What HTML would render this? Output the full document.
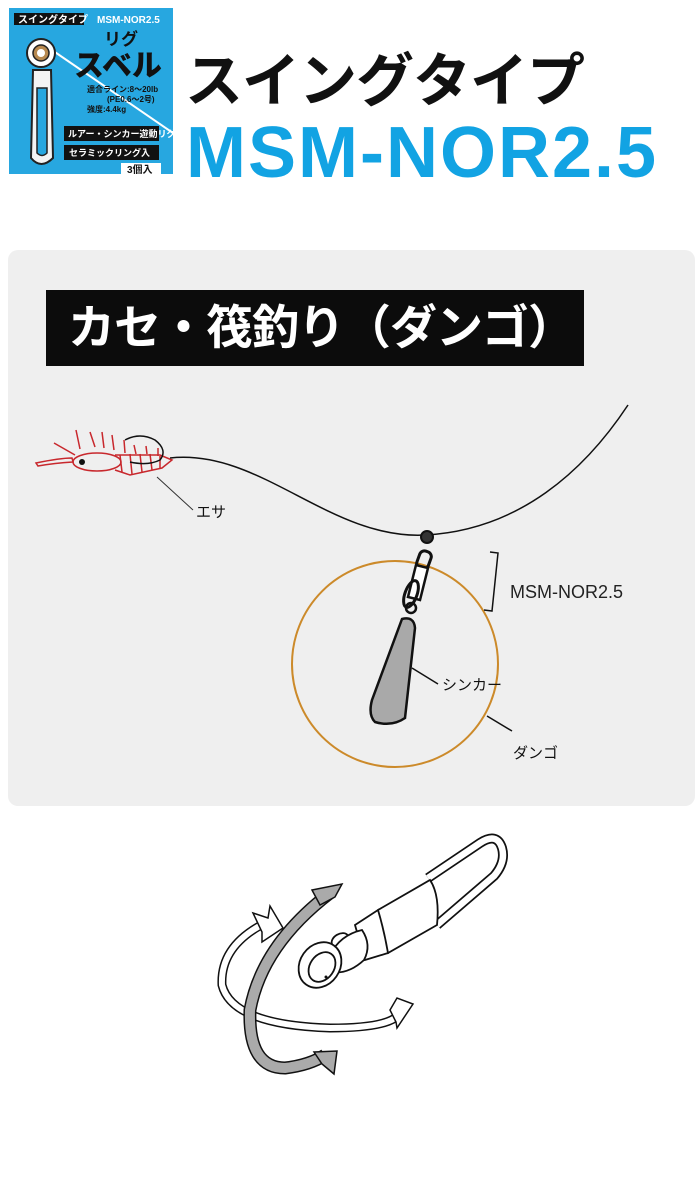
<!DOCTYPE html>
<html><head><meta charset="utf-8"><style>
body{margin:0;width:700px;height:1200px;background:#fff;position:relative;overflow:hidden;font-family:"Liberation Sans","Noto Sans CJK JP",sans-serif}
.abs{position:absolute}
</style></head><body>
<!-- package -->
<div class="abs" style="left:9px;top:8px;width:164px;height:166px;background:#27a7e0;overflow:hidden">
<svg width="164" height="166" style="position:absolute;left:0;top:0">
<line x1="40" y1="40" x2="164" y2="125" stroke="#fff" stroke-width="2"/>
<rect x="5" y="5" width="70" height="12" fill="#111"/>
<text x="9" y="15" font-size="10" font-weight="bold" fill="#fff">スイングタイプ</text>
<text x="88" y="15" font-size="10" font-weight="bold" fill="#fff">MSM-NOR2.5</text>
<circle cx="32" cy="45" r="14" fill="#fff" stroke="#222" stroke-width="2"/>
<circle cx="32" cy="45" r="8" fill="#b7894f" stroke="#222" stroke-width="1.5"/>
<circle cx="32" cy="45" r="4" fill="#fff"/>
<path d="M24 62 L22 150 Q32 162 44 150 L42 62 Z" fill="#f4f4f4" stroke="#222" stroke-width="2"/>
<path d="M28 80 L28 145 Q33 150 38 145 L38 80 Z" fill="#27a7e0" stroke="#222" stroke-width="1.5"/>
<text x="95" y="37" font-size="17" font-weight="bold" fill="#111">リグ</text>
<text x="65" y="68" font-size="30" font-weight="900" fill="#111">スベル</text>
<text x="78" y="84" font-size="8" font-weight="bold" fill="#111">適合ライン:8〜20lb</text>
<text x="98" y="94" font-size="8" font-weight="bold" fill="#111">(PE0.6〜2号)</text>
<text x="78" y="104" font-size="8" font-weight="bold" fill="#111">強度:4.4kg</text>
<rect x="55" y="118" width="95" height="15" fill="#111"/>
<text x="59" y="129" font-size="9" font-weight="bold" fill="#fff">ルアー・シンカー遊動リグ</text>
<rect x="55" y="137" width="95" height="15" fill="#111"/>
<text x="60" y="148" font-size="9" font-weight="bold" fill="#fff">セラミックリング入</text>
<rect x="112" y="155" width="40" height="13" fill="#fff"/>
<text x="118" y="165" font-size="10" font-weight="bold" fill="#111">3個入</text>
</svg></div>
<div class="abs" style="left:185px;top:42px;font-size:58px;font-weight:bold;color:#111;line-height:80px;letter-spacing:-1px">スイングタイプ</div>
<div class="abs" style="left:186px;top:116px;font-size:72px;font-weight:bold;color:#12a3e3;line-height:74px;letter-spacing:2px">MSM-NOR2.5</div>
<!-- panel -->
<div class="abs" style="left:8px;top:250px;width:687px;height:556px;background:#efefef;border-radius:10px"></div>
<div class="abs" style="left:46px;top:290px;width:538px;height:76px;background:#0c0c0c;color:#fff;font-size:47px;font-weight:bold;line-height:76px;text-indent:22px;white-space:nowrap;letter-spacing:-1px">カセ・筏釣り（ダンゴ）</div>
<svg class="abs" style="left:0;top:0" width="700" height="1200">
<path d="M170 458 C 260 448 330 540 425 535 C 520 530 585 470 628 405" fill="none" stroke="#111" stroke-width="1.5"/>
<!-- shrimp -->
<g fill="none" stroke="#c8282d" stroke-width="1.5">
<path d="M36 463 Q60 458 72 458 L73 462 Q55 463 38 466Z"/>
<path d="M54 443 L75 455"/>
<ellipse cx="97" cy="462" rx="24" ry="9"/>
<path d="M115 455 L160 455 L172 460 L162 468 L130 475 L115 470"/>
<path d="M120 455 L122 472 M130 454 L132 474 M140 454 L142 472 M150 454 L152 470 M160 456 L160 468"/>
<path d="M76 430 L80 449 M90 432 L95 447 M102 432 L104 448 M112 435 L114 450 M124 440 L125 453 M134 445 L136 454 M146 446 L147 454 M158 448 L158 456"/>
</g>
<circle cx="82" cy="462" r="3" fill="#111"/>
<path d="M125 440 Q140 432 155 440 Q168 450 160 460 Q148 466 130 462" fill="none" stroke="#111" stroke-width="1.5"/>
<line x1="157" y1="477" x2="193" y2="510" stroke="#333"/>
<text x="196" y="517" font-size="15" fill="#111">エサ</text>
<!-- dango circle -->
<circle cx="395" cy="664" r="103" fill="none" stroke="#cc8a2a" stroke-width="2"/>
<!-- swivel -->
<circle cx="427" cy="537" r="6" fill="#333" stroke="#111" stroke-width="2"/>
<rect x="418" y="551" width="12" height="18" rx="5" fill="none" stroke="#111" stroke-width="3" transform="rotate(20 424 560)"/>
<path d="M416 565 L428 568 L420 600 L408 597Z" fill="#fff" stroke="#111" stroke-width="2.5"/>
<ellipse cx="411" cy="594" rx="6" ry="14" fill="none" stroke="#111" stroke-width="3" transform="rotate(20 411 594)"/>
<circle cx="411" cy="608" r="5" fill="none" stroke="#111" stroke-width="2.5"/>
<path d="M402 619 Q414 616 415 628 L405 718 Q392 727 375 722 Q368 715 372 700 Z" fill="#a9a9a9" stroke="#111" stroke-width="2.5"/>
<line x1="412" y1="668" x2="438" y2="684" stroke="#111" stroke-width="1.5"/>
<text x="442" y="690" font-size="15" fill="#111">シンカー</text>
<line x1="487" y1="716" x2="512" y2="731" stroke="#111" stroke-width="1.5"/>
<text x="513" y="758" font-size="15" fill="#111">ダンゴ</text>
<path d="M490 552 L498 553 L492 611 L484 610" fill="none" stroke="#111" stroke-width="1.5"/>
<text x="510" y="598" font-size="18" fill="#222">MSM-NOR2.5</text>
<!-- swivel illustration -->
<g fill="none" stroke="#111" stroke-width="1.8">
<path d="M428 878 L480 843 Q497 832 502 848 Q506 862 494 876 L437 925" stroke-width="10"/>
<path d="M428 878 L480 843 Q497 832 502 848 Q506 862 494 876 L437 925" stroke="#fff" stroke-width="6.5"/>
<path d="M378 910 L430 880 Q440 895 437 925 L388 953 Q378 935 378 910Z" fill="#fff"/>
<path d="M355 925 L378 910 Q384 930 388 953 L365 960 Z" fill="#fff"/>
<ellipse cx="340" cy="940" rx="9" ry="6" transform="rotate(-30 340 940)" fill="#fff"/>
<path d="M330 955 Q340 935 362 930 Q372 945 364 960 Q348 975 330 972Z" fill="#fff"/>
<ellipse cx="320" cy="965" rx="20" ry="24" transform="rotate(35 320 965)" fill="#fff"/>
<ellipse cx="322" cy="967" rx="12" ry="16" transform="rotate(35 322 967)"/>
</g>
<circle cx="326" cy="977" r="1.5" fill="#111"/>
<!-- white arrow -->
<path d="M267 922 Q220 945 222 985 Q232 1025 330 1028 Q380 1028 395 1018" fill="none" stroke="#111" stroke-width="9"/>
<path d="M267 922 Q220 945 222 985 Q232 1025 330 1028 Q380 1028 395 1018" fill="none" stroke="#fff" stroke-width="6"/>
<path d="M253 913 L268 918 L270 906 L283 928 L262 942 L262 932 Z" fill="#fff" stroke="#111" stroke-width="1.5"/>
<path d="M390 1010 L397 998 L413 1004 L397 1028 L396 1022 Z" fill="#fff" stroke="#111" stroke-width="1.5"/>
<!-- gray arrow -->
<path d="M330 893 Q262 945 250 1010 Q248 1068 285 1068 Q310 1065 325 1055" fill="none" stroke="#111" stroke-width="13"/>
<path d="M330 893 Q262 945 250 1010 Q248 1068 285 1068 Q310 1065 325 1055" fill="none" stroke="#aaa" stroke-width="10"/>
<path d="M312 890 L342 884 L335 897 L320 905 Z" fill="#aaa" stroke="#111" stroke-width="1.5"/>
<path d="M314 1052 L337 1051 L334 1074 L322 1064 Z" fill="#aaa" stroke="#111" stroke-width="1.5"/>
</svg>
</body></html>
